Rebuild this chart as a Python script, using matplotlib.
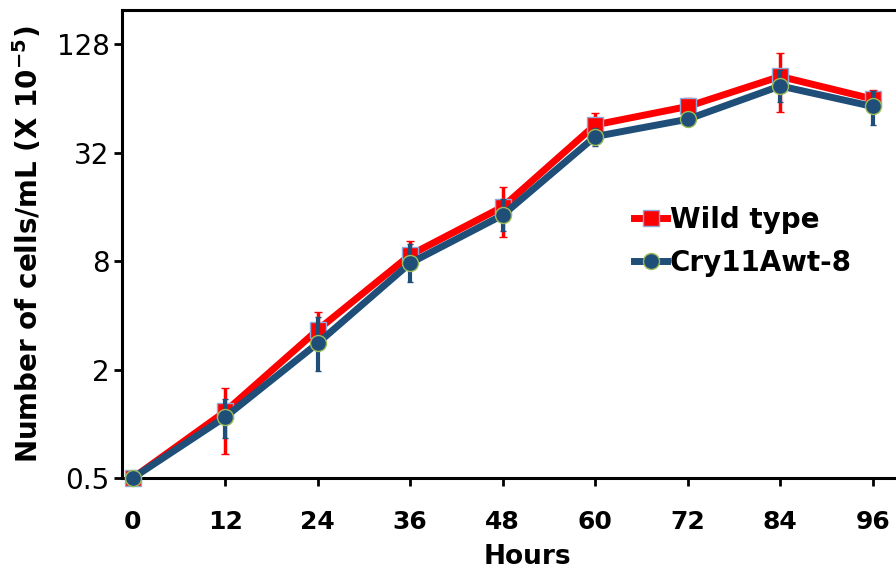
import matplotlib
matplotlib.use("Agg")
import matplotlib.pyplot as plt
from matplotlib.lines import Line2D
import numpy as np

hours = [0, 12, 24, 36, 48, 60, 72, 84, 96]

wt = [0.5, 1.17, 3.32, 8.65, 16.0, 45.6, 57.7, 84.7, 63.5]
wt_low = [0.5, 0.68, 2.65, 7.3, 10.9, 39.0, 52.0, 54.0, 57.0]
wt_high = [0.5, 1.57, 4.16, 10.3, 20.5, 53.0, 64.0, 114.0, 71.0]

cry = [0.5, 1.09, 2.8, 7.8, 14.4, 39.3, 49.0, 75.0, 57.7]
cry_low = [0.5, 0.83, 1.97, 6.15, 11.7, 35.0, 45.0, 61.0, 45.6]
cry_high = [0.5, 1.37, 3.9, 9.9, 17.7, 44.0, 53.0, 92.0, 70.0]

yticks = [0.5, 2, 8, 32, 128]
ytick_labels = ["0.5", "2", "8", "32", "128"]
xticks = hours
labels = ["Wild type", "Cry11Awt-8"]

RED = "#FF0000"
BLUE = "#1F4E79"

fig = plt.figure(figsize=(8.96, 5.73), dpi=100)
ax = fig.add_axes([122/896, 1-478/573, (934-122)/896, (478-10)/573])

def yerr(v, lo, hi):
    v = np.array(v); return [v - np.array(lo), np.array(hi) - v]

wt_style = dict(color=RED, lw=5, marker="s", ms=11.5, mfc=RED, mec="#8EA9DB", mew=1.0)
cry_style = dict(color=BLUE, lw=5, marker="o", ms=11.5, mfc=BLUE, mec="#9BBB59", mew=1.0)

ax.errorbar(hours, wt, yerr=yerr(wt, wt_low, wt_high), **wt_style,
            ecolor=RED, elinewidth=2.5, capsize=3, capthick=2.5,
            clip_on=False, zorder=3)
ax.errorbar(hours, cry, yerr=yerr(cry, cry_low, cry_high), **cry_style,
            ecolor=BLUE, elinewidth=3, capsize=2.5, capthick=3,
            clip_on=False, zorder=4)

ax.set_yscale("log")
ax.set_ylim(0.5, 198)
ax.set_xlim(-1.39, 103.95)
ax.set_yticks(yticks)
ax.set_yticklabels(ytick_labels)
ax.minorticks_off()
ax.set_xticks(xticks)
ax.set_xticklabels([str(h) for h in xticks])

for s in ax.spines.values():
    s.set_linewidth(2.2)
ax.spines["right"].set_visible(False)

ax.tick_params(axis="y", length=6, width=2, labelsize=20, pad=3, direction="out")
ax.tick_params(axis="x", length=6, width=2, labelsize=18, pad=17, direction="out")
for t in ax.get_xticklabels():
    t.set_fontweight("bold")

ax.set_xlabel("Hours", fontsize=19, fontweight="bold")
ax.xaxis.set_label_coords((527.5-122)/(934-122), -(557-478)/(478-10))
ax.xaxis.label.set_va("center")
ax.set_ylabel(r"Number of cells/mL (X 10$^{\mathbf{-5}}$)", fontsize=20, fontweight="bold")
ax.yaxis.set_label_coords(-(122-28)/(934-122), 0.5)
ax.yaxis.label.set_va("center")

handles = [Line2D([], [], **wt_style), Line2D([], [], **cry_style)]
leg = ax.legend(handles, labels, loc="upper left",
                bbox_to_anchor=((634-122)/(934-122), 1-(206-10)/(478-10)),
                frameon=False, prop={"size": 20, "weight": "bold"},
                handlelength=1.2, handletextpad=0.1, borderaxespad=0, borderpad=0,
                labelspacing=0.53)

fig.savefig("out.png", dpi=100)
